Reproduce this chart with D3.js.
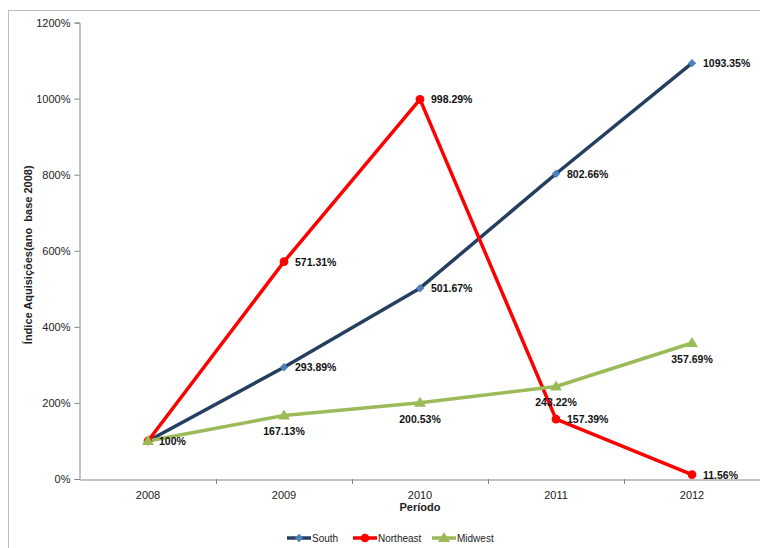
<!DOCTYPE html>
<html>
<head>
<meta charset="utf-8">
<script src="https://cdn.jsdelivr.net/npm/d3@7"></script>
<style>
  html, body { margin: 0; padding: 0; background: #fff; }
  svg { display: block; font-family: Arial, "Liberation Sans", sans-serif; }
</style>
</head>
<body>
<svg id="chart" width="760" height="548"></svg>
<script>
// Period categories and index values (base 2008 = 100%)
const years = ["2008", "2009", "2010", "2011", "2012"];
const south = [100, 293.89, 501.67, 802.66, 1093.35];
const northeast = [100, 571.31, 998.29, 157.39, 11.56];
const midwest = [100, 167.13, 200.53, 243.22, 357.69];
const yTicks = [0, 200, 400, 600, 800, 1000, 1200];

const seriesList = [
  { name: "South", values: south, color: "#243F60", marker: "diamond", markerColor: "#4F81BD", labelPos: "right" },
  { name: "Northeast", values: northeast, color: "#FF0000", marker: "circle", markerColor: "#FF0000", labelPos: "right" },
  { name: "Midwest", values: midwest, color: "#9BBB59", marker: "triangle", markerColor: "#9BBB59", labelPos: "below" }
];

const svg = d3.select("#chart");

// Outer chart frame
svg.append("rect")
  .attr("x", 8.5).attr("y", 10.5)
  .attr("width", 800).attr("height", 600)
  .attr("fill", "none").attr("stroke", "#BFBFBF").attr("stroke-width", 1);

const plot = { left: 80, right: 760, top: 22.6, bottom: 479 };

const x = d3.scaleBand().domain(years).range([plot.left, plot.right]).padding(0);
const y = d3.scaleLinear().domain([0, 1200]).range([plot.bottom, plot.top]);
const cx = d => x(d) + x.bandwidth() / 2;

const axisColor = "#868686";

// Y axis
const yAxis = svg.append("g")
  .attr("transform", `translate(${plot.left - 0.5},0)`)
  .call(d3.axisLeft(y).tickValues(yTicks).tickFormat(d => d + "%").tickSize(5).tickPadding(4));
yAxis.select(".domain").attr("stroke", axisColor);
yAxis.selectAll(".tick line").attr("stroke", axisColor);
yAxis.selectAll(".tick text").attr("font-size", 11).attr("fill", "#222")
  .attr("font-family", "Arial, 'Liberation Sans', sans-serif");

// X axis with ticks on category boundaries
const xAxis = svg.append("g")
  .attr("transform", `translate(0,${plot.bottom + 0.5})`)
  .call(d3.axisBottom(x).tickSizeOuter(0).tickSize(0).tickPadding(12));
xAxis.select(".domain").attr("stroke", axisColor);
xAxis.selectAll(".tick text").attr("font-size", 11).attr("fill", "#222")
  .attr("font-family", "Arial, 'Liberation Sans', sans-serif");
svg.append("g").selectAll("line")
  .data(years.slice(1))
  .join("line")
  .attr("x1", d => x(d) + 0.5).attr("x2", d => x(d) + 0.5)
  .attr("y1", plot.bottom).attr("y2", plot.bottom + 5)
  .attr("stroke", axisColor);

// Axis titles
svg.append("text")
  .attr("x", (plot.left + plot.right) / 2).attr("y", 511)
  .attr("text-anchor", "middle")
  .attr("font-size", 11).attr("font-weight", "bold").attr("fill", "#222")
  .text("Período");

svg.append("text")
  .attr("transform", `translate(32,${(plot.top + plot.bottom) / 2 + 4}) rotate(-90)`)
  .attr("text-anchor", "middle")
  .attr("font-size", 11).attr("font-weight", "bold").attr("fill", "#222")
  .attr("xml:space", "preserve")
  .text("Índice Aquisições(ano  base 2008)");

// Marker shapes
function markerPath(type) {
  if (type === "diamond") return d3.symbol(d3.symbolDiamond2, 45)();
  if (type === "circle") return d3.symbol(d3.symbolCircle, 60)();
  return "M0,-6L6,4L-6,4Z";
}

const line = d3.line().x((d, i) => cx(years[i])).y(d => y(d));

// Series lines, then markers on top
seriesList.forEach(s => {
  svg.append("path")
    .datum(s.values)
    .attr("d", line)
    .attr("fill", "none")
    .attr("stroke", s.color)
    .attr("stroke-width", 3.5)
    .attr("stroke-linejoin", "round");
});
seriesList.forEach(s => {
  svg.append("g").selectAll("path")
    .data(s.values)
    .join("path")
    .attr("d", markerPath(s.marker))
    .attr("transform", (d, i) => `translate(${cx(years[i])},${y(d)})`)
    .attr("fill", s.markerColor);
});

// Data labels
const fmt = v => (Number.isInteger(v) ? v : v.toFixed(2)) + "%";
seriesList.forEach(s => {
  s.values.forEach((v, i) => {
    if (i === 0 && s.name !== "South") return; // shared 100% base shown once
    const px = cx(years[i]), py = y(v);
    const t = svg.append("text")
      .attr("font-size", 10.5).attr("font-weight", "bold").attr("fill", "#111")
      .text(fmt(v));
    if (s.labelPos === "right") {
      t.attr("x", px + 11).attr("y", py + 4).attr("text-anchor", "start");
    } else {
      t.attr("x", px).attr("y", py + 20).attr("text-anchor", "middle");
    }
  });
});

// Legend
const legendItems = [
  { s: seriesList[0], x0: 287 },
  { s: seriesList[1], x0: 353 },
  { s: seriesList[2], x0: 432 }
];
const ly = 538;
legendItems.forEach(({ s, x0 }) => {
  const g = svg.append("g");
  g.append("line")
    .attr("x1", x0).attr("x2", x0 + 24)
    .attr("y1", ly).attr("y2", ly)
    .attr("stroke", s.color).attr("stroke-width", 3.5);
  g.append("path")
    .attr("d", markerPath(s.marker))
    .attr("transform", `translate(${x0 + 12},${ly})`)
    .attr("fill", s.markerColor);
  g.append("text")
    .attr("x", x0 + 25).attr("y", ly + 3.5)
    .attr("font-size", 10).attr("fill", "#222")
    .text(s.name);
});
</script>
</body>
</html>
